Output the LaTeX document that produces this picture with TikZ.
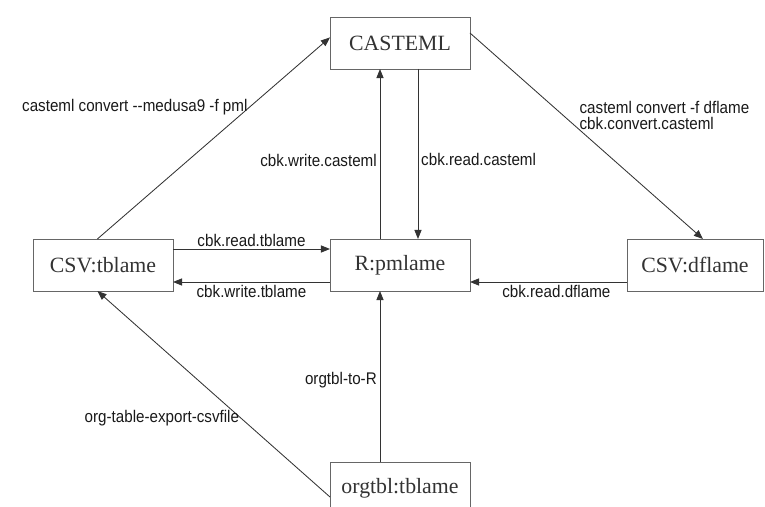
\documentclass[tikz,border=0pt]{standalone}
\usepackage{fontspec}
\setmainfont{Liberation Serif}
\newfontfamily\labelfont[FakeStretch=0.9]{Liberation Sans}
\usetikzlibrary{arrows.meta,positioning}
\tikzset{main base/.style={draw=black!60,line width=0.6pt,text centered,text=black!80}, }
\tikzset{main node/.style={rectangle,main base,outer sep=0pt,
    minimum width=3.5cm,minimum height=1.3cm,font=\fontsize{15.5}{18}\selectfont}, }
\tikzset{linea/.style={-{Triangle[length=2.3mm,width=1.8mm]},line width=0.6pt,draw=black!80}}
\tikzset{etichetta/.style={font=\labelfont\fontsize{12}{11}\selectfont,text=black!90,inner sep=2pt}}

\begin{document}
\begin{tikzpicture}
  \useasboundingbox (-10,-6.05) rectangle (9.125,6.625);
    \node[main node] (1) at (0,0) {R:pmlame};
    \node[main node] (2) [above=4.25cm of 1] {CASTEML};
    \node[main node] (3) [left=3.925cm of 1] {CSV:tblame};
    \node[main node,minimum width=3.4cm] (4) [right=3.925cm of 1] {CSV:dflame};
    \node[main node] (5) [below=4.275cm of 1] {orgtbl:tblame};
  %
    \path[linea] ([xshift=-0.14cm]3.north) -- ([yshift=0.14cm]2.west)
      node[etichetta,pos=0.653,anchor=east,inner sep=1pt] {casteml convert -{}-medusa9 -f pml};
    \path[linea] ([xshift=-0.5cm]1.north) -- ([xshift=-0.5cm]2.south)
      node[etichetta,pos=0.46,left] {cbk.write.casteml};
    \path[linea] ([xshift=0.45cm]2.south) -- ([xshift=0.45cm]1.north)
      node[etichetta,pos=0.535,right] {cbk.read.casteml};
    \path[linea] ([yshift=0.25cm]2.east) -- ([xshift=0.2cm]4.north)
      node[etichetta,pos=0.4,anchor=west,xshift=0.33cm,align=left] {casteml convert -f dflame\\cbk.convert.casteml};
    \path[linea] ([yshift=0.4cm]3.east) -- ([yshift=0.4cm]1.west)
      node[etichetta,midway,above,inner sep=1.5pt] {cbk.read.tblame};
    \path[linea] ([yshift=-0.425cm]1.west) -- ([yshift=-0.425cm]3.east)
      node[etichetta,midway,below] {cbk.write.tblame};
    \path[linea] ([yshift=-0.425cm]4.west) -- ([yshift=-0.425cm]1.east)
      node[etichetta,pos=0.45,below] {cbk.read.dflame};
    \path[linea] ([xshift=-0.5cm]5.north) -- ([xshift=-0.5cm]1.south)
      node[etichetta,pos=0.48,left] {orgtbl-to-R};
    \path[linea] ([yshift=-0.225cm]5.west) -- ([xshift=-0.14cm]3.south)
      node[etichetta,pos=0.383,anchor=east,inner sep=1pt] {org-table-export-csvfile};
  %
\end{tikzpicture}
\end{document}
